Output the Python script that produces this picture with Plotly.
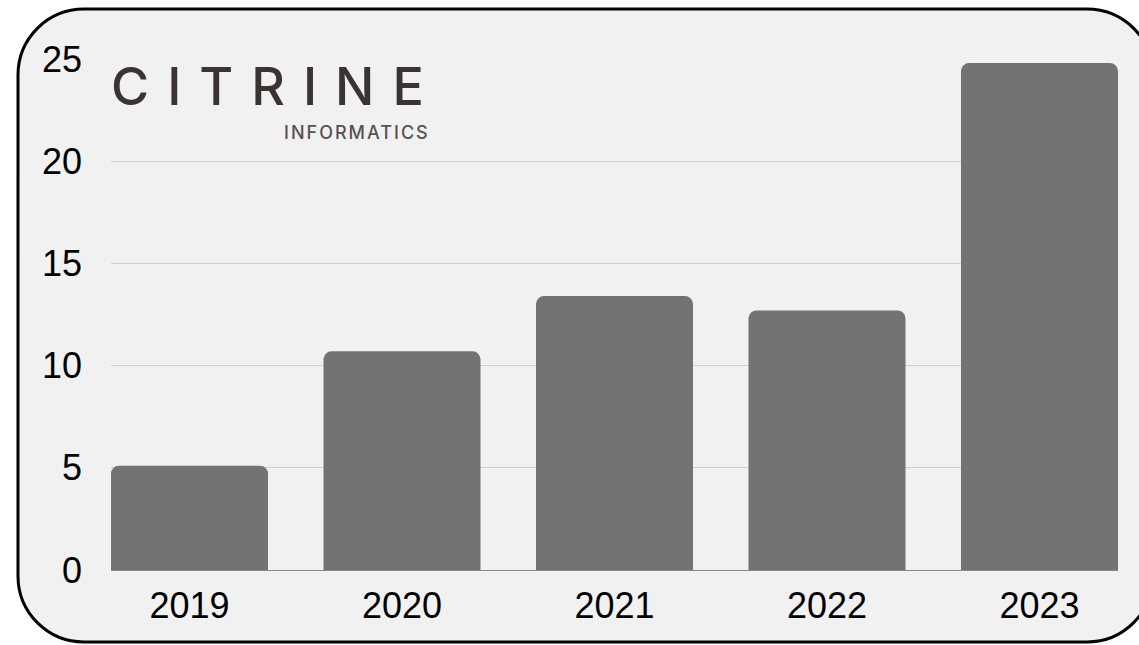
import plotly.graph_objects as go

years = ["2019", "2020", "2021", "2022", "2023"]
values = [5.1, 10.7, 13.4, 12.7, 24.8]
y_ticks = [0, 5, 10, 15, 20, 25]

W, H = 1139, 645
ML, MR, MT, MB = 111, 21, 59, 75
PW, PH = W - ML - MR, H - MT - MB


def px(x):
    return (x - ML) / PW


def py(y):
    return (H - MB - y) / PH


def rounded_rect(x0, y0, x1, y1, r):
    k = 0.5523 * r
    pts = [
        f"M {px(x0 + r)},{py(y0)}",
        f"L {px(x1 - r)},{py(y0)}",
        f"C {px(x1 - r + k)},{py(y0)} {px(x1)},{py(y0 + r - k)} {px(x1)},{py(y0 + r)}",
        f"L {px(x1)},{py(y1 - r)}",
        f"C {px(x1)},{py(y1 - r + k)} {px(x1 - r + k)},{py(y1)} {px(x1 - r)},{py(y1)}",
        f"L {px(x0 + r)},{py(y1)}",
        f"C {px(x0 + r - k)},{py(y1)} {px(x0)},{py(y1 - r + k)} {px(x0)},{py(y1 - r)}",
        f"L {px(x0)},{py(y0 + r)}",
        f"C {px(x0)},{py(y0 + r - k)} {px(x0 + r - k)},{py(y0)} {px(x0 + r)},{py(y0)}",
        "Z",
    ]
    return " ".join(pts)


bw = 157 / 212.5
fig = go.Figure(
    go.Bar(
        x=list(range(len(years))),
        y=values,
        width=bw,
        marker=dict(color="#737373", cornerradius=8, line=dict(width=0)),
        hoverinfo="skip",
    )
)

fig.update_layout(
    width=W,
    height=H,
    margin=dict(l=ML, r=MR, t=MT, b=MB, pad=0),
    paper_bgcolor="white",
    plot_bgcolor="rgba(0,0,0,0)",
    showlegend=False,
    font=dict(family="Liberation Sans, Arial, sans-serif", color="black"),
    xaxis=dict(
        tickmode="array",
        tickvals=list(range(len(years))),
        ticktext=years,
        range=[-bw / 2, len(years) - 1 + bw / 2],
        showgrid=False,
        zeroline=False,
        showline=True,
        linecolor="#8a8a8a",
        linewidth=1,
        ticks="",
        tickfont=dict(size=36, color="black"),
        ticklabelstandoff=4,
    ),
    yaxis=dict(
        range=[0, 25],
        tickmode="array",
        tickvals=y_ticks,
        showgrid=True,
        gridcolor="#cfcfcf",
        gridwidth=1,
        zeroline=False,
        showline=False,
        ticks="",
        tickfont=dict(size=36, color="black"),
        ticklabelstandoff=28,
    ),
    shapes=[
        dict(
            type="path",
            xref="paper",
            yref="paper",
            path=rounded_rect(18, 9, 1153, 642, 66),
            fillcolor="#f1f1f1",
            line=dict(color="black", width=3),
            layer="below",
        ),
        dict(
            type="rect",
            xref="paper",
            yref="paper",
            x0=px(104),
            x1=px(436),
            y0=py(150),
            y1=py(56),
            fillcolor="rgba(242,242,242,0.6)",
            line=dict(width=0),
            layer="above",
        ),
    ],
    annotations=[
        dict(
            xref="paper",
            yref="paper",
            x=px(109),
            y=py(86),
            xanchor="left",
            yanchor="middle",
            showarrow=False,
            text='<span style="letter-spacing:18px">CITRINE</span>',
            font=dict(family="Inter, sans-serif", size=52, color="#3b3232", weight=500),
        ),
        dict(
            xref="paper",
            yref="paper",
            x=px(432),
            y=py(132),
            xanchor="right",
            yanchor="middle",
            showarrow=False,
            text='<span style="letter-spacing:2px">INFORMATICS</span>',
            font=dict(family="Inter, sans-serif", size=18, color="#5a5050", weight=500),
        ),
    ],
)

fig.write_html("out.html")
